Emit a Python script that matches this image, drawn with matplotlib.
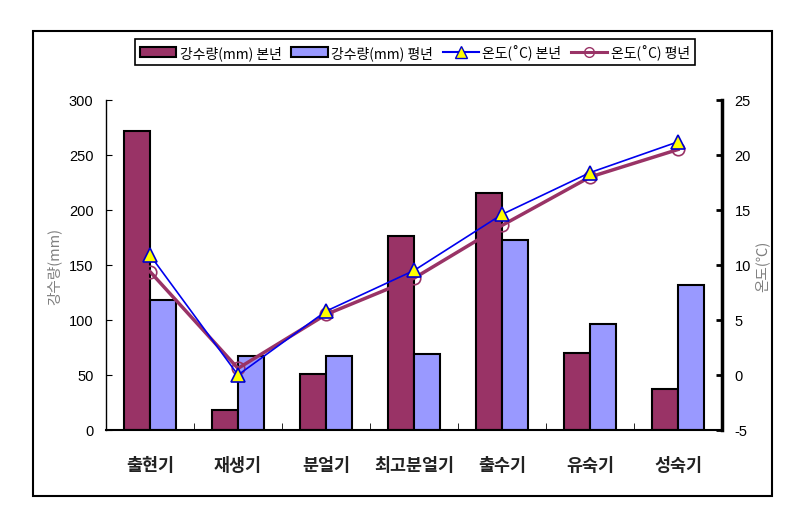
import matplotlib
matplotlib.use("Agg")
import matplotlib.pyplot as plt
from matplotlib.lines import Line2D
from matplotlib.patches import Patch, Rectangle
import numpy as np

plt.rcParams['font.family'] = ['Liberation Sans', 'Noto Sans CJK KR', 'DejaVu Sans']
plt.rcParams['axes.unicode_minus'] = False
KR = ['Noto Sans CJK KR', 'DejaVu Sans']

categories = ['출현기', '재생기', '분얼기', '최고분얼기', '출수기', '유숙기', '성숙기']
rain_this = [272, 18, 51, 176, 215, 70, 37]
rain_avg = [118, 67, 67, 69, 173, 96, 132]
temp_this = [10.9, 0.0, 5.8, 9.5, 14.6, 18.4, 21.2]
temp_avg = [9.4, 0.6, 5.5, 8.8, 13.6, 18.0, 20.5]
rain_ticks = [0, 50, 100, 150, 200, 250, 300]
temp_ticks = [-5, 0, 5, 10, 15, 20, 25]

maroon = '#993366'
lav = '#9999FF'

fig = plt.figure(figsize=(8.11, 5.10), dpi=100)
ax = fig.add_axes([106/811, 1-431/510, 616/811, 330/510])
x = np.arange(len(categories))
w = 0.3
ax.bar(x - w/2, rain_this, w, color=maroon, edgecolor='black', linewidth=1.5)
ax.bar(x + w/2, rain_avg, w, color=lav, edgecolor='black', linewidth=1.5)
ax.set_xlim(-0.5, len(categories) - 0.5)
ax.set_ylim(0, 300)
ax.set_yticks(rain_ticks)
ax.tick_params(axis='y', direction='in', length=4, pad=9, labelsize=10.5)
ax.set_xticks(x)
ax.set_xticklabels(categories, fontfamily=KR, fontsize=12.5, fontweight='bold', color='#222222')
ax.tick_params(axis='x', which='major', length=0, pad=19)
ax.set_xticks(np.arange(0.5, len(categories) - 1, 1), minor=True)
ax.tick_params(axis='x', which='minor', direction='in', length=5)
ax.spines['top'].set_visible(False)
ax.spines['right'].set_visible(False)
ax.spines['left'].set_linewidth(1.0)
ax.spines['bottom'].set_linewidth(1.5)
ax.set_ylabel('강수량(mm)', fontfamily=KR, fontsize=10.5, color='#808080', labelpad=5)

ax2 = ax.twinx()
ax2.plot(x, temp_avg, color=maroon, linewidth=2.5, marker='o', markersize=9,
         markerfacecolor='none', markeredgecolor=maroon, markeredgewidth=1.2)
ax2.plot(x, temp_this, color='#0000EE', linewidth=1.2, marker='^', markersize=10,
         markerfacecolor='#FFFF00', markeredgecolor='#0000CC', markeredgewidth=1.2)
ax2.set_ylim(-5, 25)
ax2.set_yticks(temp_ticks)
ax2.tick_params(axis='y', direction='in', length=4, width=2, pad=9, labelsize=10.5)
for s in ['top', 'left', 'bottom']:
    ax2.spines[s].set_visible(False)
ax2.spines['right'].set_linewidth(2.5)
ax2.set_ylabel('온도(℃)', fontfamily=KR, fontsize=10.5, color='#808080', labelpad=3)

handles = [
    Patch(facecolor=maroon, edgecolor='black', linewidth=1.5),
    Patch(facecolor=lav, edgecolor='black', linewidth=1.5),
    Line2D([], [], color='#0000EE', linewidth=1.5, marker='^', markersize=8,
           markerfacecolor='#FFFF00', markeredgecolor='#0000CC'),
    Line2D([], [], color=maroon, linewidth=2.2, marker='o', markersize=7,
           markerfacecolor='none', markeredgecolor=maroon),
]
labels = ['강수량(mm) 본년', '강수량(mm) 평년', '온도(˚C) 본년', '온도(˚C) 평년']
leg = fig.legend(handles, labels, loc='center', bbox_to_anchor=(415/811, 1-53/510), ncol=4,
                 frameon=True, fancybox=False, edgecolor='black', framealpha=1,
                 prop={'family': KR, 'size': 10}, handlelength=2.6, handletextpad=0.25,
                 columnspacing=0.7, borderpad=0.35)
leg.get_frame().set_linewidth(1.2)

fig.add_artist(Rectangle((33/811, 1-497/510), (772-33)/811, (497-32)/510,
                         transform=fig.transFigure, fill=False, edgecolor='black', linewidth=1.5))

fig.savefig('out.png', dpi=100)
